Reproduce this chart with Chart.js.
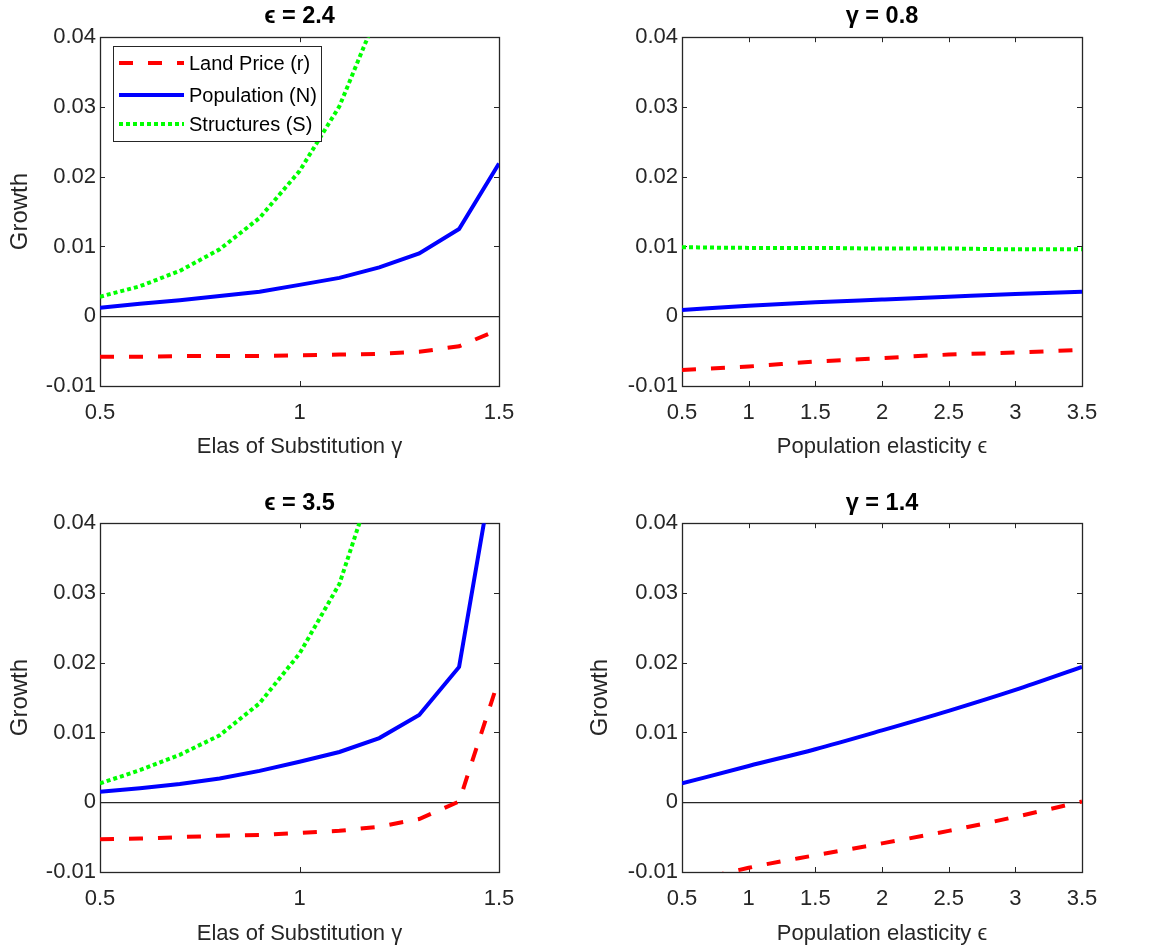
<!DOCTYPE html>
<html>
<head>
<meta charset="utf-8">
<script src="https://cdn.jsdelivr.net/npm/chart.js@4.4.1/dist/chart.umd.min.js"></script>
<style>
  html, body { margin: 0; padding: 0; background: #fff; }
  #wrap { position: relative; width: 1156px; height: 952px; }
  canvas { position: absolute; }
</style>
</head>
<body>
<div id="wrap">
  <canvas id="c1" width="580" height="476" style="left:0;top:0"></canvas>
  <canvas id="c2" width="576" height="476" style="left:580px;top:0"></canvas>
  <canvas id="c3" width="580" height="476" style="left:0;top:476px"></canvas>
  <canvas id="c4" width="576" height="476" style="left:580px;top:476px"></canvas>
</div>
<script>
// x grids
const gammaVals = [0.5, 0.6, 0.7, 0.8, 0.9, 1.0, 1.1, 1.2, 1.3, 1.4, 1.5];
const epsVals = [0.5, 1.0, 1.5, 2.0, 2.5, 3.0, 3.5];
const yTicks = [-0.01, 0, 0.01, 0.02, 0.03, 0.04];

// panel 1: eps = 2.4, varying gamma
const land1 = [-0.0058, -0.0058, -0.0057, -0.0057, -0.0057, -0.0056, -0.0055, -0.0054, -0.0051, -0.0043, -0.0019];
const pop1 = [0.0012, 0.0018, 0.0023, 0.0029, 0.0035, 0.0045, 0.0055, 0.0070, 0.0090, 0.0125, 0.0219];
const str1 = [0.0028, 0.0043, 0.0065, 0.0096, 0.0141, 0.0208, 0.0301, 0.0440, null, null, null];

// panel 2: gamma = 0.8, varying eps
const land2 = [-0.0077, -0.0072, -0.0065, -0.0060, -0.0055, -0.0052, -0.0048];
const pop2 = [0.0009, 0.0015, 0.0020, 0.0024, 0.0028, 0.0032, 0.0035];
const str2 = [0.0099, 0.0098, 0.0098, 0.0097, 0.0097, 0.0096, 0.0096];

// panel 3: eps = 3.5, varying gamma
const land3 = [-0.0053, -0.0052, -0.0050, -0.0048, -0.0047, -0.0044, -0.0041, -0.0035, -0.0024, 0.0001, 0.0177];
const pop3 = [0.0015, 0.0020, 0.0026, 0.0034, 0.0045, 0.0058, 0.0072, 0.0092, 0.0125, 0.0194, 0.0526];
const str3 = [0.0027, 0.0046, 0.0068, 0.0096, 0.0142, 0.0213, 0.0313, 0.0487, null, null, null];

// panel 4: gamma = 1.4, varying eps
const land4 = [-0.0117, -0.0094, -0.0076, -0.0059, -0.0041, -0.0021, 0.0001];
const pop4 = [0.0027, 0.0052, 0.0076, 0.0103, 0.0131, 0.0161, 0.0194];

const FONT = '"Liberation Sans", Arial, Helvetica, sans-serif';
const AXIS = '#262626';

const pts = (xs, ys) => xs.map((x, i) => ({ x: x, y: ys[i] }));

const landStyle = { label: 'Land Price (r)', borderColor: '#ff0000', borderWidth: 4, borderDash: [14, 15] };
const popStyle = { label: 'Population (N)', borderColor: '#0000ff', borderWidth: 4, borderDash: [] };
const strStyle = { label: 'Structures (S)', borderColor: '#00ff00', borderWidth: 4, borderDash: [4, 3] };

function series(style, xs, ys, smooth) {
  return Object.assign({}, style, {
    data: pts(xs, ys),
    pointRadius: 0,
    fill: false,
    clip: 0,
    borderCapStyle: 'butt',
    cubicInterpolationMode: smooth ? 'monotone' : 'default',
    tension: 0
  });
}

// MATLAB-like box with inward ticks
const matlabAxes = {
  id: 'matlabAxes',
  beforeDatasetsDraw(chart) {
    const { ctx, chartArea: a, scales: { x, y } } = chart;
    ctx.save();
    ctx.strokeStyle = AXIS;
    ctx.lineWidth = 1;
    ctx.beginPath();
    x.ticks.forEach(t => {
      const px = Math.round(x.getPixelForValue(t.value)) + 0.5;
      ctx.moveTo(px, a.bottom); ctx.lineTo(px, a.bottom - 5);
      ctx.moveTo(px, a.top); ctx.lineTo(px, a.top + 5);
    });
    y.ticks.forEach(t => {
      const py = Math.round(y.getPixelForValue(t.value)) + 0.5;
      ctx.moveTo(a.left, py); ctx.lineTo(a.left + 5, py);
      ctx.moveTo(a.right, py); ctx.lineTo(a.right - 5, py);
    });
    ctx.stroke();
    ctx.lineWidth = 1.3;
    ctx.strokeRect(Math.round(a.left) + 0.5, Math.round(a.top) + 0.5,
      Math.round(a.right - a.left), Math.round(a.bottom - a.top));
    ctx.restore();
  }
};

// legend inside the upper-left of the plot area
const insideLegend = {
  id: 'insideLegend',
  afterDatasetsDraw(chart) {
    const { ctx, chartArea: a } = chart;
    const bx = Math.round(a.left) + 13, by = Math.round(a.top) + 9, bw = 208, bh = 95;
    const rows = [17, 49, 78];
    ctx.save();
    ctx.fillStyle = '#fff';
    ctx.fillRect(bx, by, bw, bh);
    ctx.strokeStyle = AXIS;
    ctx.lineWidth = 1;
    ctx.strokeRect(bx + 0.5, by + 0.5, bw, bh);
    chart.data.datasets.forEach((ds, i) => {
      const ry = by + rows[i];
      ctx.strokeStyle = ds.borderColor;
      ctx.lineWidth = ds.borderWidth;
      ctx.setLineDash(ds.borderDash || []);
      ctx.beginPath();
      ctx.moveTo(bx + 6, ry);
      ctx.lineTo(bx + 71, ry);
      ctx.stroke();
      ctx.setLineDash([]);
      ctx.fillStyle = '#000';
      ctx.font = '20px ' + FONT;
      ctx.textBaseline = 'middle';
      ctx.fillText(ds.label, bx + 76, ry + 1);
    });
    ctx.restore();
  }
};

function makePanel(id, o) {
  return new Chart(document.getElementById(id), {
    type: 'line',
    data: { datasets: o.datasets },
    options: {
      responsive: false,
      devicePixelRatio: 1,
      animation: false,
      events: [],
      layout: { padding: { left: 0, right: o.padRight, top: 0, bottom: 0 } },
      plugins: {
        legend: { display: false },
        tooltip: { enabled: false },
        title: {
          display: true,
          fullSize: false,
          text: o.title,
          color: '#000',
          font: { family: FONT, size: 23.5, weight: 'bold', lineHeight: 1.2 },
          padding: { top: o.titleTop, bottom: o.titleBottom }
        }
      },
      scales: {
        x: {
          type: 'linear',
          min: o.xMin,
          max: o.xMax,
          afterBuildTicks: s => { s.ticks = o.xTicks.map(v => ({ value: v })); },
          ticks: {
            color: AXIS,
            padding: 14,
            maxRotation: 0,
            font: { family: FONT, size: 22 },
            callback: v => String(v)
          },
          grid: { display: false, drawTicks: false },
          border: { display: false },
          title: {
            display: true,
            text: o.xTitle,
            color: AXIS,
            font: { family: FONT, size: 22, lineHeight: 1.2 },
            padding: { top: 0, bottom: o.xTitleBottom }
          },
          afterFit: s => { s.height = o.xHeight; }
        },
        y: {
          type: 'linear',
          min: -0.01,
          max: 0.04,
          afterBuildTicks: s => { s.ticks = yTicks.map(v => ({ value: v })); },
          ticks: {
            color: AXIS,
            padding: 4,
            font: { family: FONT, size: 22 },
            callback: v => String(parseFloat(Number(v).toFixed(2)))
          },
          grid: {
            drawTicks: false,
            lineWidth: 1.2,
            color: c => (c.tick && Math.abs(c.tick.value) < 1e-9 ? AXIS : 'rgba(0,0,0,0)')
          },
          border: { display: false },
          title: {
            display: o.yTitle,
            text: 'Growth',
            color: AXIS,
            font: { family: FONT, size: 24, lineHeight: 1.2 },
            padding: { top: 6, bottom: 0 }
          },
          afterFit: s => { s.width = o.yWidth; }
        }
      }
    },
    plugins: o.legend ? [matlabAxes, insideLegend] : [matlabAxes]
  });
}

const gammaTitle = 'Elas of Substitution γ';
const epsTitle = 'Population elasticity ϵ';

makePanel('c1', {
  title: 'ϵ = 2.4', titleTop: 2, titleBottom: 7,
  datasets: [series(landStyle, gammaVals, land1), series(popStyle, gammaVals, pop1), series(strStyle, gammaVals, str1)],
  xMin: 0.5, xMax: 1.5, xTicks: [0.5, 1, 1.5], xTitle: gammaTitle,
  xHeight: 90, xTitleBottom: 16, yWidth: 100, padRight: 81, yTitle: true, legend: true
});

makePanel('c2', {
  title: 'γ = 0.8', titleTop: 2, titleBottom: 7,
  datasets: [series(landStyle, epsVals, land2, true), series(popStyle, epsVals, pop2, true), series(strStyle, epsVals, str2, true)],
  xMin: 0.5, xMax: 3.5, xTicks: [0.5, 1, 1.5, 2, 2.5, 3, 3.5], xTitle: epsTitle,
  xHeight: 90, xTitleBottom: 16, yWidth: 102, padRight: 74, yTitle: false, legend: false
});

makePanel('c3', {
  title: 'ϵ = 3.5', titleTop: 13, titleBottom: 6,
  datasets: [series(landStyle, gammaVals, land3), series(popStyle, gammaVals, pop3), series(strStyle, gammaVals, str3)],
  xMin: 0.5, xMax: 1.5, xTicks: [0.5, 1, 1.5], xTitle: gammaTitle,
  xHeight: 80, xTitleBottom: 5, yWidth: 100, padRight: 81, yTitle: true, legend: false
});

makePanel('c4', {
  title: 'γ = 1.4', titleTop: 13, titleBottom: 6,
  datasets: [series(landStyle, epsVals, land4, true), series(popStyle, epsVals, pop4, true)],
  xMin: 0.5, xMax: 3.5, xTicks: [0.5, 1, 1.5, 2, 2.5, 3, 3.5], xTitle: epsTitle,
  xHeight: 80, xTitleBottom: 5, yWidth: 102, padRight: 74, yTitle: true, legend: false
});
</script>
</body>
</html>
